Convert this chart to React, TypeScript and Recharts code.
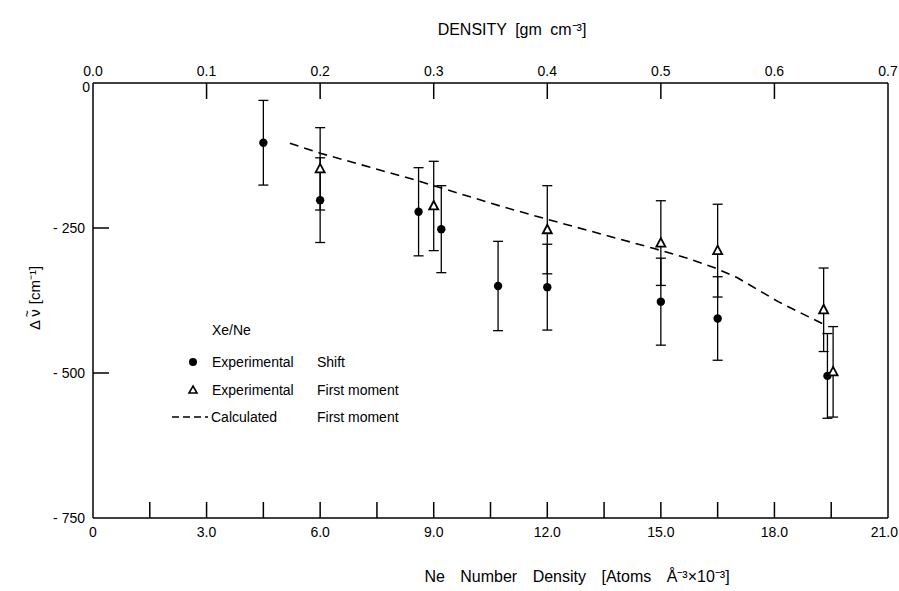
import React from "react";
import {
  ComposedChart,
  ErrorBar,
  Line,
  ReferenceLine,
  Scatter,
  XAxis,
  YAxis,
} from "recharts";

// Xe/Ne experimental shift (filled circles)
const shiftX = [4.5, 6.0, 8.6, 9.2, 10.7, 12.0, 15.0, 16.5, 19.4];
const shiftY = [-103, -202, -222, -252, -350, -352, -377, -406, -505];
const shiftErr = [73, 73, 76, 75, 77, 74, 75, 72, 73];

// experimental first moment (open triangles)
const momentX = [6.0, 9.0, 12.0, 15.0, 16.5, 19.3, 19.55];
const momentY = [-148, -212, -253, -276, -289, -391, -498];
const momentErr = [71, 77, 76, 73, 80, 72, 78];

// calculated first moment (dashed)
const calcX = [5.2, 6.0, 8.5, 10.75, 12.0, 14.8, 15.7, 16.4, 17.0, 18.1, 19.3];
const calcY = [-104, -121, -167, -212, -235, -285, -302, -318, -335, -377, -416];

const bottomTicks = [0, 1.5, 3, 4.5, 6, 7.5, 9, 10.5, 12, 13.5, 15, 16.5, 18, 19.5, 21];
const topTicks = [0, 0.1, 0.2, 0.3, 0.4, 0.5, 0.6, 0.7];
const yTicks = [0, -250, -500, -750];

const shiftData = shiftX.map((x, i) => ({ x, y: shiftY[i], err: shiftErr[i] }));
const momentData = momentX.map((x, i) => ({ x, y: momentY[i], err: momentErr[i] }));
const calcData = calcX.map((x, i) => ({ x, y: calcY[i] }));
// only there so the top (density) axis gets a scale; draws nothing
const topAxisData = topTicks.map((x) => ({ x, y: 0 }));

const FONT = "'Liberation Sans', Arial, sans-serif";
const TICK_LEN = 16;

const BottomTick = (props: any) => {
  const { x, y, payload } = props;
  const v = payload.value;
  const inner = v > 0 && v < 21;
  const labeled = Math.abs(v / 3 - Math.round(v / 3)) < 1e-6;
  const last = v === 21;
  return (
    <g>
      {inner && <line x1={x} y1={y} x2={x} y2={y - TICK_LEN} stroke="#000" strokeWidth={1.5} />}
      {labeled && (
        <text
          x={last ? 898 : x}
          y={y + 19}
          textAnchor={last ? "end" : "middle"}
          fontSize={14}
          fontFamily={FONT}
          fill="#000"
        >
          {v === 0 ? "0" : v.toFixed(1)}
        </text>
      )}
    </g>
  );
};

const TopTick = (props: any) => {
  const { x, y, payload } = props;
  const v = payload.value;
  const inner = v > 0.01 && v < 0.69;
  return (
    <g>
      {inner && <line x1={x} y1={y} x2={x} y2={y + TICK_LEN} stroke="#000" strokeWidth={1.5} />}
      <text x={x} y={y - 7} textAnchor="middle" fontSize={14} fontFamily={FONT} fill="#000">
        {v.toFixed(1)}
      </text>
    </g>
  );
};

const LeftTick = (props: any) => {
  const { x, y, payload } = props;
  const v = payload.value;
  const inner = v < 0 && v > -750;
  return (
    <g>
      {inner && <line x1={x} y1={y} x2={x + TICK_LEN} y2={y} stroke="#000" strokeWidth={1.5} />}
      <text
        x={v === 0 ? x - 3 : x - 8}
        y={v === 0 ? y + 9 : y + 5}
        textAnchor="end"
        fontSize={14}
        fontFamily={FONT}
        fill="#000"
      >
        {v === 0 ? "0" : "- " + Math.abs(v)}
      </text>
    </g>
  );
};

const Dot = (props: any) => <circle cx={props.cx} cy={props.cy} r={4.2} fill="#000" />;

const Tri = (props: any) => {
  const { cx, cy } = props;
  return (
    <path
      d={`M${cx},${cy - 5} L${cx + 4.5},${cy + 3.5} L${cx - 4.5},${cy + 3.5} Z`}
      fill="#fff"
      stroke="#000"
      strokeWidth={1.8}
    />
  );
};

const Nothing = () => <g />;

export default function App() {
  return (
    <div style={{ position: "absolute", left: 0, top: 0, background: "#fff" }}>
      <ComposedChart
        width={899}
        height={591}
        margin={{ top: 0, right: 11, bottom: 0, left: 0 }}
      >
        <XAxis
          dataKey="x"
          type="number"
          domain={[0, 21]}
          ticks={bottomTicks}
          interval={0}
          height={73}
          tickLine={false}
          tickSize={0}
          tickMargin={0}
          tick={<BottomTick />}
          axisLine={{ stroke: "#000", strokeWidth: 1.5 }}
          allowDataOverflow
        />
        <XAxis
          xAxisId="top"
          dataKey="x"
          orientation="top"
          type="number"
          domain={[0, 0.7]}
          ticks={topTicks}
          interval={0}
          height={83}
          tickLine={false}
          tickSize={0}
          tickMargin={0}
          tick={<TopTick />}
          axisLine={{ stroke: "#000", strokeWidth: 1.5 }}
          allowDataOverflow
        />
        <YAxis
          dataKey="y"
          type="number"
          domain={[-750, 0]}
          ticks={yTicks}
          interval={0}
          width={93}
          tickLine={false}
          tickSize={0}
          tickMargin={0}
          tick={<LeftTick />}
          axisLine={{ stroke: "#000", strokeWidth: 1.5 }}
          allowDataOverflow
        />
        <ReferenceLine x={21} stroke="#000" strokeWidth={1.5} />
        <Scatter
          xAxisId="top"
          data={topAxisData}
          shape={<Nothing />}
          isAnimationActive={false}
        />
        <Line
          data={calcData}
          dataKey="y"
          type="linear"
          stroke="#000"
          strokeWidth={1.6}
          strokeDasharray="9 6"
          dot={false}
          isAnimationActive={false}
        />
        <Scatter data={shiftData} shape={<Dot />} isAnimationActive={false}>
          <ErrorBar dataKey="err" direction="y" width={5} stroke="#000" strokeWidth={1.3} />
        </Scatter>
        <Scatter data={momentData} shape={<Tri />} isAnimationActive={false}>
          <ErrorBar dataKey="err" direction="y" width={5} stroke="#000" strokeWidth={1.3} />
        </Scatter>

        <text
          x={512}
          y={35}
          textAnchor="middle"
          fontSize={16}
          wordSpacing={4}
          fontFamily={FONT}
          fill="#000"
        >
          DENSITY [gm cm⁻³]
        </text>
        <text
          x={577}
          y={582}
          textAnchor="middle"
          fontSize={16}
          wordSpacing={11}
          fontFamily={FONT}
          fill="#000"
        >
          Ne Number Density [Atoms Å⁻³×10⁻³]
        </text>
        <text
          x={40}
          y={298}
          transform="rotate(-90 40 298)"
          textAnchor="middle"
          fontSize={15}
          fontFamily={FONT}
          fill="#000"
        >
          <tspan>Δ ν</tspan>
          <tspan dx={-8} dy={-9} fontSize={12}>~</tspan>
          <tspan dx={6} dy={9}>[cm⁻¹]</tspan>
        </text>

        <g fontFamily={FONT} fontSize={14} fill="#000">
          <text x={212} y={335}>Xe/Ne</text>
          <circle cx={193} cy={362} r={4} fill="#000" />
          <text x={212} y={367}>Experimental</text>
          <text x={317} y={367}>Shift</text>
          <path d="M193,386 L197,393 L189,393 Z" fill="#fff" stroke="#000" strokeWidth={1.6} />
          <text x={212} y={395}>Experimental</text>
          <text x={317} y={395}>First</text>
          <text x={348} y={395}>moment</text>
          <line x1={172} y1={417} x2={208} y2={417} stroke="#000" strokeWidth={1.6} strokeDasharray="7 4" />
          <text x={211} y={422}>Calculated</text>
          <text x={317} y={422}>First</text>
          <text x={348} y={422}>moment</text>
        </g>
      </ComposedChart>
    </div>
  );
}
